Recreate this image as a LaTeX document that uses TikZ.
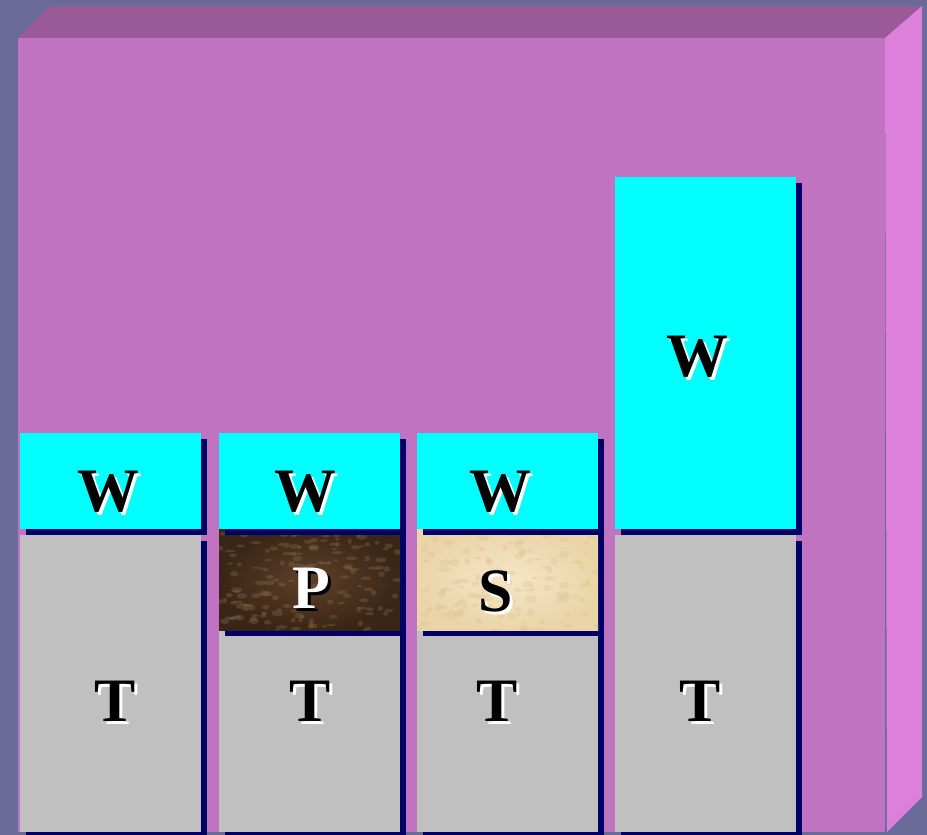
\documentclass[tikz,border=0pt]{standalone}
\usepackage{fontspec}
\setmainfont{Liberation Serif}

\definecolor{slate}{HTML}{6B6B99}
\definecolor{frontmag}{HTML}{C073C0}
\definecolor{topmag}{HTML}{9A5A98}
\definecolor{sidemag}{HTML}{DC80DC}
\definecolor{navy}{HTML}{000066}
\definecolor{wcyan}{HTML}{00FFFF}
\definecolor{tgray}{HTML}{C0C0C0}
\definecolor{pbrown}{HTML}{5E4029}
\definecolor{pdark}{HTML}{3A2616}
\definecolor{pvein}{HTML}{8A6A4A}
\definecolor{scream}{HTML}{EBD5A8}
\definecolor{slight}{HTML}{F6E6C6}
\definecolor{svein}{HTML}{D9C08E}

\tikzset{
  letter/.style={font=\bfseries\fontsize{62}{62}\selectfont, inner sep=0pt},
}

% letter with a shadow behind it: #1 shadow colour, #2 letter colour, #3 text
\newcommand\shadowed[3]{%
  \rlap{\kern3bp\raisebox{-3bp}{\color{#1}#3}}{\color{#2}#3}}

% one slab of a column with its drop shadow
\newcommand\slab[4]{%
  \fill[navy] (#1+\sh, #2+\sh) rectangle (#1+\w+\sh, #3+\sh);
  \fill[#4] (#1, #2) rectangle (#1+\w, #3);
}

\begin{document}
\begin{tikzpicture}[x=1bp, y=-1bp]
\def\sh{6}
\def\w{181}
\pgfmathsetseed{7}

\useasboundingbox (0,0) rectangle (927,835);
\fill[slate] (0,0) rectangle (927,835);

% the box
\fill[topmag] (18,38) -- (50,6) -- (922,6) -- (885,38) -- cycle;
\fill[sidemag] (885,38) -- (922,6) -- (922,797) -- (887,832) -- cycle;
\fill[frontmag] (18,38) rectangle (885,832);

% columns
\slab{20}{535}{832}{tgray}
\slab{20}{433}{529}{wcyan}

\slab{219}{535}{832}{tgray}
\fill[navy] (219+\sh,529+\sh) rectangle (219+\w+\sh,630+\sh);
\shade[inner color=pbrown, outer color=pdark] (219,529) rectangle (219+\w,630);
\begin{scope}
  \clip (219,529) rectangle (219+\w,630);
  \foreach \i in {1,...,160} {
    \pgfmathsetmacro\dx{219+rnd*\w}
    \pgfmathsetmacro\dy{529+rnd*101}
    \fill[pvein, opacity=0.35] (\dx,\dy) ellipse [x radius=2+4*rnd, y radius=1+2*rnd];
  }
\end{scope}
\slab{219}{433}{529}{wcyan}

\slab{417}{535}{832}{tgray}
\fill[navy] (417+\sh,529+\sh) rectangle (417+\w+\sh,630+\sh);
\shade[inner color=slight, outer color=scream] (417,529) rectangle (417+\w,630);
\begin{scope}
  \clip (417,529) rectangle (417+\w,630);
  \foreach \i in {1,...,120} {
    \pgfmathsetmacro\dx{417+rnd*\w}
    \pgfmathsetmacro\dy{529+rnd*101}
    \fill[svein, opacity=0.3] (\dx,\dy) ellipse [x radius=2+4*rnd, y radius=1+3*rnd];
  }
\end{scope}
\slab{417}{433}{529}{wcyan}

\slab{615}{535}{832}{tgray}
\slab{615}{177}{529}{wcyan}

% labels
\foreach \name/\px/\py/\txt in {wa/108/493/W, wb/305/493/W, wc/500/493/W, wd/697/358/W,
    ta/115/703/T, tb/310/703/T, tc/497/703/T, td/700/703/T, s/496/593/S} {
  \node[letter] (\name) at (\px,\py) {\shadowed{white}{black}{\txt}};
}
\node[letter] (p) at (311,590) {\shadowed{black}{white}{P}};
\end{tikzpicture}
\end{document}
